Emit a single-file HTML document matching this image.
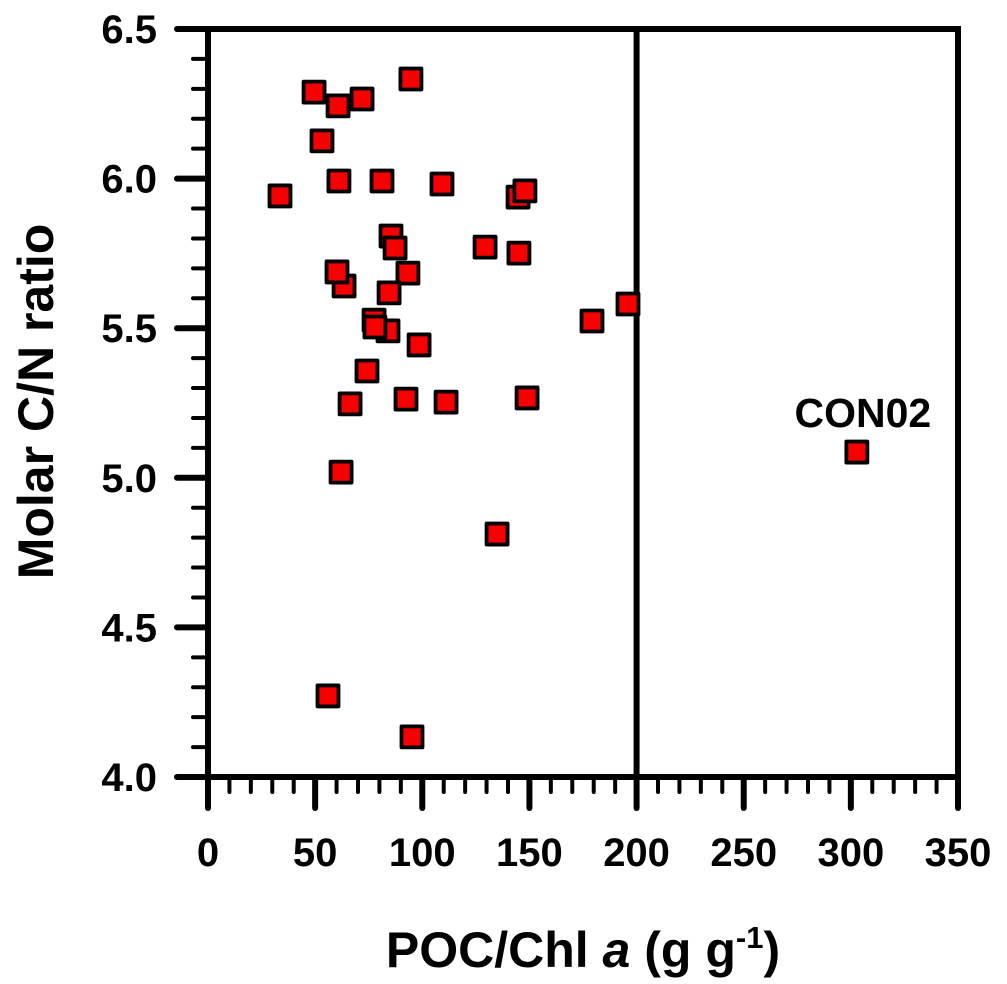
<!DOCTYPE html>
<html lang="en">
<head>
<meta charset="utf-8">
<title>Molar C/N ratio vs POC/Chl a</title>
<style>
  html, body { margin: 0; padding: 0; background: #fff; }
  body { width: 1007px; height: 984px; overflow: hidden; }
  svg { display: block; font-family: "Liberation Sans", Arial, sans-serif; font-weight: bold; fill: #000; }
</style>
</head>
<body>
<svg id="chart" xmlns="http://www.w3.org/2000/svg" width="1007" height="984" viewBox="0 0 1007 984"></svg>
<script>
const xTickValues = [0, 50, 100, 150, 200, 250, 300, 350];
const xTickLabels = ['0', '50', '100', '150', '200', '250', '300', '350'];
const yTickValues = [4.0, 4.5, 5.0, 5.5, 6.0, 6.5];
const yTickLabels = ['4.0', '4.5', '5.0', '5.5', '6.0', '6.5'];
const pocChlValues = [33.6, 49.5, 60.7, 71.9, 94.7, 53.2, 61.1, 81.2, 109.2, 144.7, 147.9, 85.4, 87.3, 129.3, 145.1, 63.5, 60.2, 93.3, 84.5, 84, 77.5, 77.9, 98.5, 179.2, 196, 74.2, 66.3, 92.4, 111.1, 148.9, 62.1, 134.9, 56, 95.2, 302.8];
const cnRatioValues = [5.942, 6.289, 6.243, 6.266, 6.333, 6.126, 5.992, 5.992, 5.982, 5.938, 5.959, 5.808, 5.768, 5.771, 5.751, 5.641, 5.688, 5.684, 5.618, 5.491, 5.527, 5.504, 5.444, 5.524, 5.581, 5.357, 5.247, 5.263, 5.253, 5.267, 5.019, 4.812, 4.271, 4.134, 5.086];
const referenceLineX = [200];
const annotationText = ['CON02'];
const annotationPoint = [302.8, 5.086];

const X0 = 208, X1 = 958, Y0 = 777, Y1 = 29;
const xMin = 0, xMax = 350, yMin = 4, yMax = 6.5;
const xScale = v => X0 + (v - xMin) * (X1 - X0) / (xMax - xMin);
const yScale = v => Y0 - (v - yMin) * (Y0 - Y1) / (yMax - yMin);

const svg = document.getElementById('chart');
const NS = 'http://www.w3.org/2000/svg';
function make(tag, attrs, parent, text) {
  const el = document.createElementNS(NS, tag);
  for (const k in attrs) el.setAttribute(k, attrs[k]);
  if (text !== undefined) el.textContent = text;
  parent.appendChild(el);
  return el;
}

const axisGroup = make('g', { stroke: '#000', 'stroke-linecap': 'butt' }, svg);



function tickLine(x1, y1, x2, y2, w, name) {
  const l = make('line', { x1, y1, x2, y2, 'stroke-width': w, 'stroke-linecap': 'round' }, axisGroup);
  
  
}

/* minor ticks */
for (let v = xMin; v <= xMax + 0.001; v += 10) {
  if (v % 50 !== 0) tickLine(xScale(v), Y0, xScale(v), 792, 4, 'x-minor-tick');
}
for (let i = 0; i <= 25; i++) {
  if (i % 5 !== 0) {
    const v = yMin + i * 0.1;
    tickLine(X0, yScale(v), 193, yScale(v), 4, 'y-minor-tick');
  }
}
/* major ticks */
xTickValues.forEach(v => tickLine(xScale(v), Y0, xScale(v), 808, 6, 'x-major-tick'));
yTickValues.forEach(v => tickLine(X0, yScale(v), 177, yScale(v), 6, 'y-major-tick'));

/* frame */
const frame = make('rect', { x: X0, y: Y1, width: X1 - X0, height: Y0 - Y1, fill: 'none', 'stroke-width': 6 }, axisGroup);



/* reference line */
referenceLineX.forEach(v => {
  const l = make('line', { x1: xScale(v), y1: Y1, x2: xScale(v), y2: Y0, 'stroke-width': 6 }, axisGroup);
  
  
});

/* tick labels */
xTickValues.forEach((v, i) => {
  const t = make('text', { x: xScale(v), y: 866, 'text-anchor': 'middle', 'font-size': 40 }, svg, xTickLabels[i]);
  
  
});
yTickValues.forEach((v, i) => {
  const t = make('text', { x: 157, y: yScale(v) + 14, 'text-anchor': 'end', 'font-size': 40 }, svg, yTickLabels[i]);
  
  
});

/* points */
const pointsGroup = make('g', {}, svg);


const S = 21;
pocChlValues.forEach((xv, i) => {
  const r = make('rect', {
    x: xScale(xv) - S / 2, y: yScale(cnRatioValues[i]) - S / 2, width: S, height: S,
    fill: '#f60000', stroke: '#000', 'stroke-width': 3.8, 'stroke-linejoin': 'round'
  }, pointsGroup);
  
  
});

/* annotation */
const ann = make('text', { x: xScale(annotationPoint[0]) + 6, y: yScale(annotationPoint[1]) - 25, 'text-anchor': 'middle', 'font-size': 41 }, svg, annotationText[0]);



/* axis titles */
const yTitle = make('text', { transform: 'translate(53,401.5) rotate(-90)', 'text-anchor': 'middle', 'font-size': 50 }, svg, 'Molar C/N ratio');



const xTitle = make('text', { x: 583, y: 967, 'text-anchor': 'middle', 'font-size': 50 }, svg);


make('tspan', {}, xTitle, 'POC/Chl ');
make('tspan', { 'font-style': 'italic' }, xTitle, 'a');
make('tspan', {}, xTitle, ' (g g');
make('tspan', { 'font-size': 31, dy: -19 }, xTitle, '-1');
make('tspan', { dy: 19 }, xTitle, ')');
</script>
</body>
</html>
